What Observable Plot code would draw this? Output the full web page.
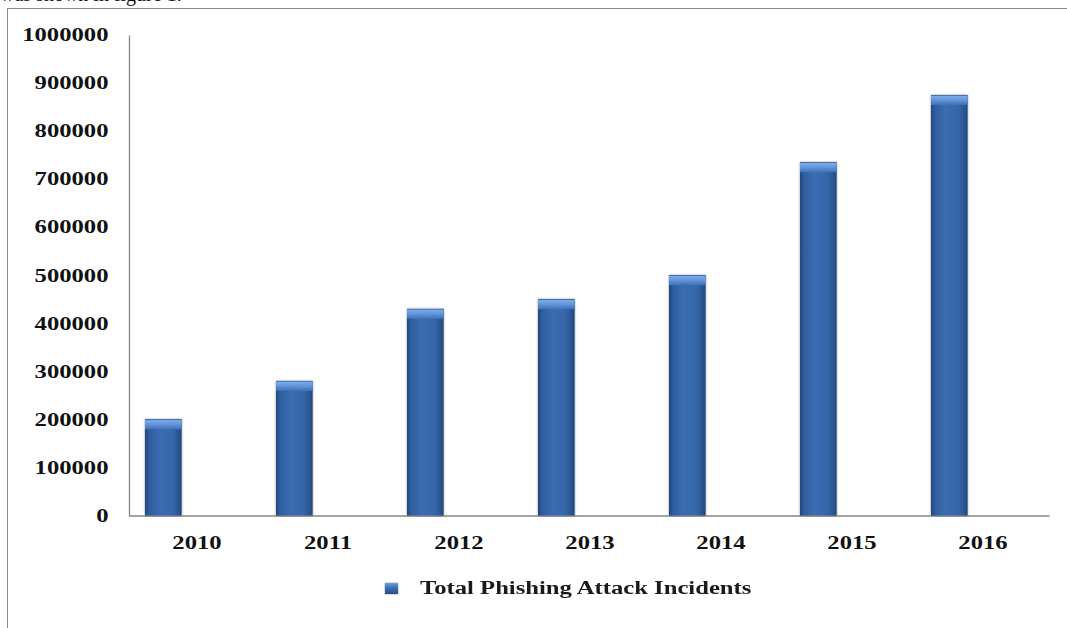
<!DOCTYPE html>
<html>
<head>
<meta charset="utf-8">
<script src="https://cdn.jsdelivr.net/npm/d3@7"></script>
<script src="https://cdn.jsdelivr.net/npm/@observablehq/plot@0.6"></script>
<style>
  html, body { margin: 0; padding: 0; background: #fff; }
  #page { position: relative; width: 1067px; height: 628px; overflow: hidden; background: #fff; }
  #lead { position: absolute; left: 0; top: -17px; font: 20px "Liberation Serif", "Times New Roman", serif; color: #111; white-space: nowrap; }
  #box { position: absolute; left: 7px; top: 8px; right: -4px; bottom: -4px; border-top: 1.5px solid #8a8a8a; border-left: 1.5px solid #8a8a8a; }
  #chart { position: absolute; left: 0; top: 0; }
  #legend { position: absolute; left: 385px; top: 578px; display: flex; align-items: center;
            font: bold 18px "Liberation Serif", "Times New Roman", serif; color: #1a1a1a; }
  #legend .sw { width: 13px; height: 11px; margin-right: 22px;
                background: linear-gradient(to bottom, #6f9ee0 0%, #3c6fb4 45%, #24508a 100%);
                box-shadow: 0 0 1.5px rgba(0,0,0,0.5); }
  #legend .txt { display: inline-block; transform: scaleX(1.37); transform-origin: left center; white-space: nowrap; }
</style>
</head>
<body>
<div id="page">
  <div id="lead">was shown in figure 1.</div>
  <div id="box"></div>
  <div id="chart"></div>
  <div id="legend"><span class="sw"></span><span class="txt">Total Phishing Attack Incidents</span></div>
</div>
<script>
// Total phishing attack incidents per year
const years = ["2010", "2011", "2012", "2013", "2014", "2015", "2016"];
const incidents = [200000, 280000, 430000, 450000, 500000, 735000, 875000];
const yTicks = [0, 100000, 200000, 300000, 400000, 500000, 600000, 700000, 800000, 900000, 1000000];

const rows = years.map((year, i) => ({year, value: incidents[i]}));

const W = 1067, H = 560;
const mL = 129, mR = 18, mT = 35, mB = 44.5;
const plotW = W - mL - mR, plotH = H - mT - mB;

const chart = Plot.plot({
  width: W,
  height: H,
  marginLeft: mL,
  marginRight: mR,
  marginTop: mT,
  marginBottom: mB,
  style: {
    fontFamily: "'Liberation Serif', 'Times New Roman', serif",
    fontSize: "18px",
    fontWeight: "bold",
    color: "#111",
    background: "transparent"
  },
  x: {type: "band", domain: years, padding: 0, label: null, tickSize: 0, tickPadding: 20},
  y: {domain: [0, 1000000], ticks: yTicks, tickFormat: d3.format("d"), label: null, tickSize: 0, tickPadding: 21},
  marks: [
    // left and bottom axis lines only
    Plot.frame({stroke: "#868686", strokeWidth: 1.3, strokeDasharray: `0 ${plotW + plotH} ${plotW + plotH}`}),
    Plot.barY(rows, {x: "year", y: "value", fill: "url(#barBody)", insetLeft: 14, insetRight: 80.4}),
    // bevelled top cap of each bar
    Plot.barY(rows, {x: "year", y1: "value", y2: "value", insetBottom: -10, fill: "url(#barCap)", insetLeft: 14, insetRight: 80.4})
  ]
});

document.getElementById("chart").appendChild(chart);

// gradients for the shaded bars
d3.select(chart).insert("defs", ":first-child").html(`
  <linearGradient id="barBody" x1="0" x2="1" y1="0" y2="0">
    <stop offset="0" stop-color="#22497e"/>
    <stop offset="0.12" stop-color="#2f5e9f"/>
    <stop offset="0.4" stop-color="#3b6db2"/>
    <stop offset="0.75" stop-color="#3566a8"/>
    <stop offset="0.92" stop-color="#2a5590"/>
    <stop offset="1" stop-color="#1f4578"/>
  </linearGradient>
  <linearGradient id="barCap" x1="0" x2="0" y1="0" y2="1">
    <stop offset="0" stop-color="#2c5793"/>
    <stop offset="0.12" stop-color="#7aaae8"/>
    <stop offset="0.55" stop-color="#5e92d8"/>
    <stop offset="1" stop-color="#3d6fb3"/>
  </linearGradient>
  <filter id="barShadow" x="-20%" y="-5%" width="140%" height="110%">
    <feDropShadow dx="0" dy="0" stdDeviation="1.2" flood-color="#000" flood-opacity="0.45"/>
  </filter>
`);
d3.select(chart).selectAll("g[aria-label='bar']").filter((d, i) => i === 0).attr("filter", "url(#barShadow)");

// widen the tick labels horizontally about their own anchor point
d3.select(chart).selectAll("text").each(function() {
  const t = this.getAttribute("transform") || "";
  this.setAttribute("transform", `${t} scale(1.37,1)`);
});
</script>
</body>
</html>
